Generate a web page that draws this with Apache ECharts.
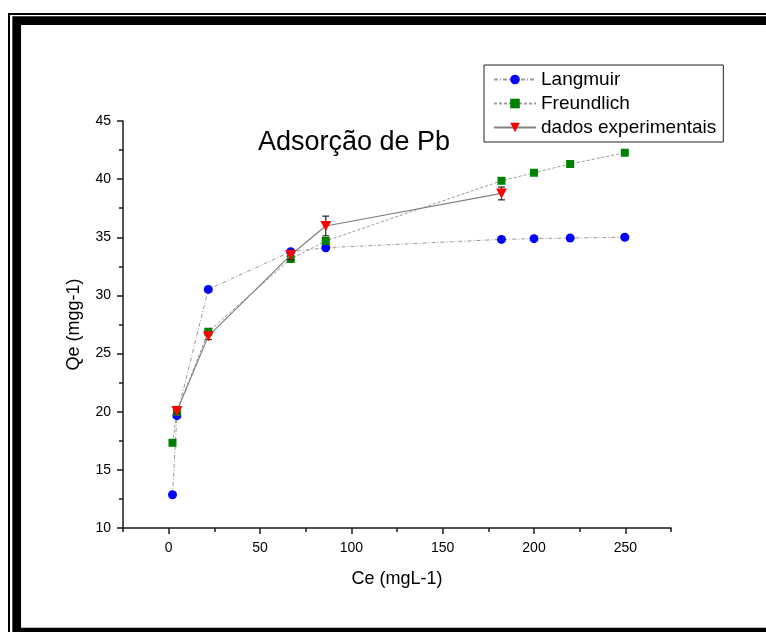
<!DOCTYPE html>
<html>
<head>
<meta charset="utf-8">
<script src="https://cdn.jsdelivr.net/npm/echarts@6/dist/echarts.min.js"></script>
<style>html,body{margin:0;padding:0;background:#fff;}#c{width:766px;height:632px;}</style>
</head>
<body>
<div id="c"></div>
<script>
// ---- data ----
const xTheory = [2.1, 4.5, 21.7, 66.8, 86, 182.2, 200, 219.8, 249.7];
const langmuir = [12.86, 19.66, 30.52, 33.76, 34.1, 34.82, 34.88, 34.94, 35.0];
const freundlich = [17.33, 20.0, 26.88, 33.13, 34.68, 39.86, 40.55, 41.3, 42.27];
const xExp = [4.5, 21.7, 66.8, 86, 182.2];
const expValues = [20.06, 26.5, 33.47, 35.97, 38.77];
const expErrors = [0.2, 0.3, 0.4, 0.85, 0.55];
const xMajorTicks = [0, 50, 100, 150, 200, 250];
const xMinorTicks = [-25, 25, 75, 125, 175, 225, 275];
const seriesNames = ['Langmuir', 'Freundlich', 'dados experimentais'];
const titleText = 'Adsorção de Pb';
const xName = 'Ce (mgL-1)';
const yName = 'Qe (mgg-1)';

const FONT = 'Arial, "Liberation Sans", sans-serif';
const pairs = (xs, ys) => xs.map((x, i) => [x, ys[i]]);

const chart = echarts.init(document.getElementById('c'), null, {renderer: 'canvas'});
const axisLineStyle = {color: '#1a1a1a', width: 1.5};

chart.setOption({
  animation: false,
  backgroundColor: '#fff',
  grid: {left: 123, right: 95, top: 121, bottom: 104, containLabel: false},
  title: {
    text: titleText, left: 253, top: 124,
    textStyle: {fontFamily: FONT, fontSize: 27, fontWeight: 'normal', color: '#000'}
  },
  legend: {
    data: seriesNames,
    orient: 'vertical',
    left: 484, top: 65,
    padding: [5, 7, 5, 9],
    itemWidth: 42, itemHeight: 12, itemGap: 5, itemTextGap: 7,
    borderColor: '#222', borderWidth: 1,
    textStyle: {fontFamily: FONT, fontSize: 19, color: '#000', lineHeight: 19}
  },
  xAxis: [{
    type: 'value', min: -25, max: 275,
    name: xName, nameLocation: 'middle', nameGap: 42,
    nameTextStyle: {fontFamily: FONT, fontSize: 18, color: '#000'},
    axisLine: {show: true, onZero: false, lineStyle: axisLineStyle},
    axisTick: {show: true, length: 6, lineStyle: axisLineStyle, customValues: xMajorTicks},
    axisLabel: {fontFamily: FONT, fontSize: 14, color: '#000', margin: 13, customValues: xMajorTicks},
    splitLine: {show: false}
  }, {
    type: 'value', min: -25, max: 275, position: 'bottom', gridIndex: 0,
    axisLine: {show: false, onZero: false},
    axisTick: {show: true, length: 4, lineStyle: axisLineStyle, customValues: xMinorTicks},
    axisLabel: {show: false},
    splitLine: {show: false}
  }],
  yAxis: {
    type: 'value', min: 10, max: 45, interval: 5,
    name: yName, nameLocation: 'middle', nameGap: 40,
    nameTextStyle: {fontFamily: FONT, fontSize: 18, color: '#000'},
    axisLine: {show: true, onZero: false, lineStyle: axisLineStyle},
    axisTick: {show: true, length: 6, lineStyle: axisLineStyle},
    minorTick: {show: true, splitNumber: 2, length: 4, lineStyle: axisLineStyle},
    axisLabel: {fontFamily: FONT, fontSize: 14, color: '#000', margin: 12},
    splitLine: {show: false}
  },
  graphic: [
    {type: 'rect', shape: {x: 9, y: 14, width: 900, height: 800}, style: {fill: 'none', stroke: '#000', lineWidth: 2}, silent: true},
    {type: 'rect', shape: {x: 16.7, y: 20.7, width: 900, height: 611.5}, style: {fill: 'none', stroke: '#000', lineWidth: 8.7}, silent: true}
  ],
  series: [
    {
      name: seriesNames[0], type: 'line', data: pairs(xTheory, langmuir),
      symbol: 'circle', symbolSize: 9,
      itemStyle: {color: '#0000ff'},
      lineStyle: {color: '#999999', width: 1, type: [4, 2, 1, 2]},
      z: 3
    },
    {
      name: seriesNames[1], type: 'line', data: pairs(xTheory, freundlich),
      symbol: 'rect', symbolSize: 8,
      itemStyle: {color: '#008000'},
      lineStyle: {color: '#999999', width: 1, type: [3, 2]},
      z: 3
    },
    {
      name: 'err', type: 'custom', xAxisIndex: 0,
      data: xExp.map((x, i) => [x, expValues[i], expErrors[i]]),
      encode: {x: 0, y: 1},
      renderItem: function (params, api) {
        const x = api.value(0), y = api.value(1), e = api.value(2);
        const top = api.coord([x, y + e]);
        const bot = api.coord([x, y - e]);
        const hw = 3.5;
        const st = {stroke: '#222', lineWidth: 1.2};
        return {type: 'group', children: [
          {type: 'line', shape: {x1: top[0], y1: top[1], x2: bot[0], y2: bot[1]}, style: st},
          {type: 'line', shape: {x1: top[0] - hw, y1: top[1], x2: top[0] + hw, y2: top[1]}, style: st},
          {type: 'line', shape: {x1: bot[0] - hw, y1: bot[1], x2: bot[0] + hw, y2: bot[1]}, style: st}
        ]};
      },
      z: 4
    },
    {
      name: seriesNames[2], type: 'line', data: pairs(xExp, expValues),
      symbol: 'triangle', symbolRotate: 180, symbolSize: [11, 10],
      itemStyle: {color: '#ff0000'},
      lineStyle: {color: '#808080', width: 1.2, type: 'solid'},
      z: 5
    }
  ]
});
</script>
</body>
</html>
